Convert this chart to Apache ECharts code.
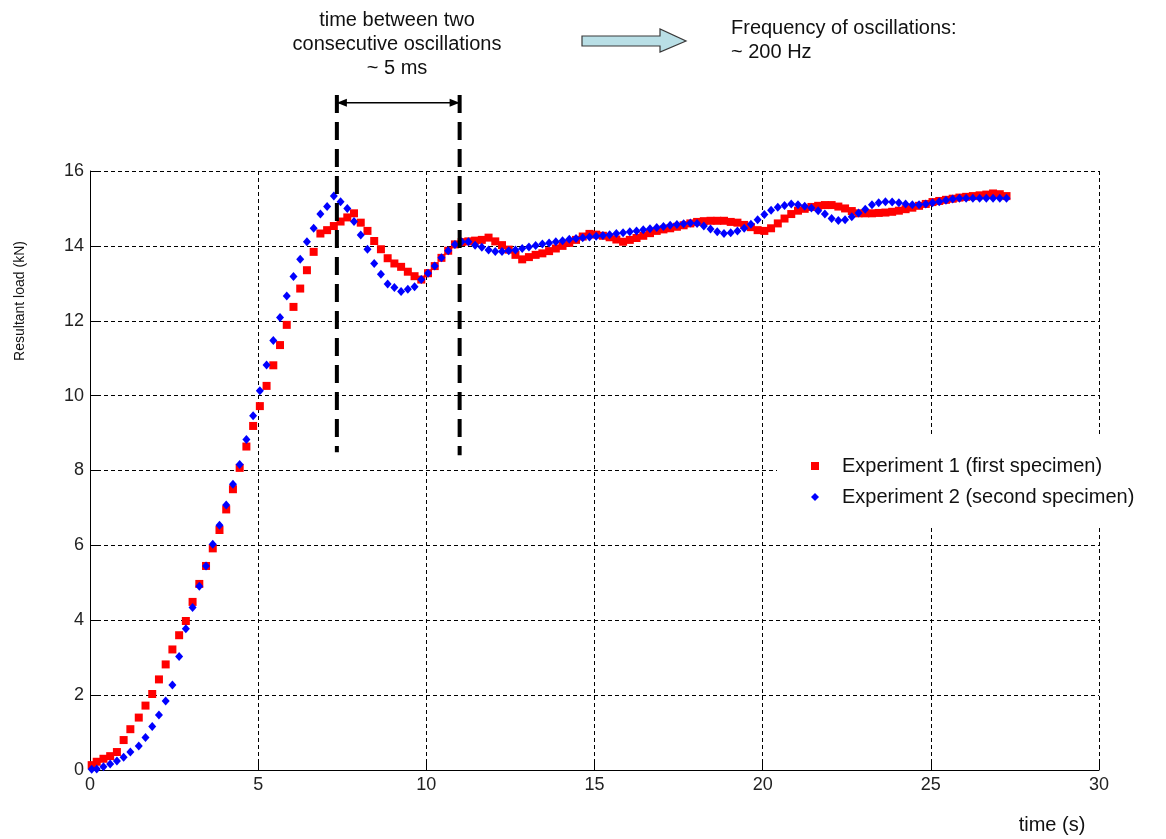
<!DOCTYPE html>
<html><head><meta charset="utf-8">
<script src="https://cdn.jsdelivr.net/npm/echarts@6/dist/echarts.min.js"></script>
<style>html,body{margin:0;padding:0;background:#fff}#c{width:1166px;height:839px}</style>
</head><body><div id="c"></div>
<script>
// time (s) of each sample
const times = [
  0.05, 0.2, 0.4, 0.6, 0.8, 1.0, 1.2,
  1.45, 1.65, 1.85, 2.05, 2.25, 2.45, 2.65, 2.85, 3.05, 3.25,
  3.45, 3.65, 3.85, 4.05, 4.25, 4.45, 4.65, 4.85, 5.05, 5.25,
  5.45, 5.65, 5.85, 6.05, 6.25, 6.45, 6.65, 6.85, 7.05, 7.25,
  7.45, 7.65, 7.85, 8.05, 8.25, 8.45, 8.65, 8.85, 9.05, 9.25,
  9.45, 9.65, 9.85, 10.05, 10.25, 10.45, 10.65, 10.85, 11.05, 11.25,
  11.45, 11.65, 11.85, 12.05, 12.25, 12.45, 12.65, 12.85, 13.05, 13.25,
  13.45, 13.65, 13.85, 14.05, 14.25, 14.45, 14.65, 14.85, 15.05, 15.25,
  15.45, 15.65, 15.85, 16.05, 16.25, 16.45, 16.65, 16.85, 17.05, 17.25,
  17.45, 17.65, 17.85, 18.05, 18.25, 18.45, 18.65, 18.85, 19.05, 19.25,
  19.45, 19.65, 19.85, 20.05, 20.25, 20.45, 20.65, 20.85, 21.05, 21.25,
  21.45, 21.65, 21.85, 22.05, 22.25, 22.45, 22.65, 22.85, 23.05, 23.25,
  23.45, 23.65, 23.85, 24.05, 24.25, 24.45, 24.65, 24.85, 25.05, 25.25,
  25.45, 25.65, 25.85, 26.05, 26.25, 26.45, 26.65, 26.85, 27.05, 27.25
];
// Experiment 1 (first specimen), kN
const exp1 = [
  0.13, 0.22, 0.30, 0.37, 0.48, 0.80, 1.09,
  1.40, 1.72, 2.03, 2.42, 2.82, 3.22, 3.60, 3.98, 4.49, 4.97,
  5.45, 5.92, 6.41, 6.96, 7.50, 8.07, 8.64, 9.19, 9.72, 10.26,
  10.81, 11.35, 11.89, 12.37, 12.86, 13.35, 13.84, 14.33, 14.42, 14.53,
  14.65, 14.76, 14.87, 14.62, 14.40, 14.13, 13.91, 13.67, 13.53, 13.44,
  13.31, 13.19, 13.10, 13.27, 13.46, 13.68, 13.87, 14.04, 14.10, 14.12,
  14.14, 14.16, 14.22, 14.12, 14.02, 13.90, 13.76, 13.64, 13.70, 13.76,
  13.80, 13.86, 13.93, 14.00, 14.08, 14.16, 14.25, 14.32, 14.30, 14.27,
  14.23, 14.17, 14.11, 14.16, 14.21, 14.27, 14.34, 14.40, 14.44, 14.47,
  14.51, 14.55, 14.60, 14.64, 14.66, 14.67, 14.67, 14.67, 14.64, 14.62,
  14.56, 14.50, 14.42, 14.40, 14.47, 14.60, 14.73, 14.85, 14.94, 14.99,
  15.04, 15.07, 15.09, 15.09, 15.05, 15.00, 14.93, 14.87, 14.87, 14.87,
  14.88, 14.89, 14.91, 14.94, 14.98, 15.02, 15.07, 15.12, 15.17, 15.20,
  15.23, 15.26, 15.29, 15.31, 15.33, 15.35, 15.37, 15.40, 15.38, 15.33
];
// Experiment 2 (second specimen), kN
const exp2 = [
  0.02, 0.03, 0.09, 0.16, 0.24, 0.34, 0.48,
  0.64, 0.87, 1.16, 1.47, 1.84, 2.27, 3.03, 3.77, 4.34, 4.91,
  5.45, 6.03, 6.54, 7.08, 7.63, 8.16, 8.83, 9.46, 10.13, 10.82,
  11.47, 12.09, 12.66, 13.18, 13.64, 14.11, 14.47, 14.85, 15.05, 15.33,
  15.18, 15.00, 14.65, 14.29, 13.91, 13.53, 13.24, 12.98, 12.89, 12.78,
  12.84, 12.91, 13.10, 13.27, 13.46, 13.68, 13.87, 14.04, 14.11, 14.11,
  14.02, 13.96, 13.89, 13.85, 13.85, 13.87, 13.89, 13.93, 13.97, 14.01,
  14.05, 14.08, 14.11, 14.14, 14.18, 14.20, 14.22, 14.24, 14.26, 14.28,
  14.30, 14.33, 14.35, 14.38, 14.40, 14.43, 14.46, 14.49, 14.52, 14.55,
  14.57, 14.59, 14.61, 14.60, 14.53, 14.45, 14.38, 14.33, 14.35, 14.40,
  14.47, 14.58, 14.70, 14.84, 14.95, 15.03, 15.08, 15.12, 15.10, 15.06,
  15.01, 14.94, 14.85, 14.73, 14.68, 14.70, 14.78, 14.88, 14.98, 15.10,
  15.15, 15.18, 15.17, 15.15, 15.12, 15.10, 15.10, 15.12, 15.15, 15.18,
  15.22, 15.25, 15.27, 15.27, 15.27, 15.27, 15.27, 15.27, 15.27, 15.27
];
const seriesNames = ['Experiment 1 (first specimen)', 'Experiment 2 (second specimen)'];
const xRange = { min: 0, max: 30, interval: 5 };
const yRange = { min: 0, max: 16, interval: 2 };
const xTitle = 'time (s)';
const yTitle = 'Resultant load (kN)';
const noteLines = ['time between two', 'consecutive oscillations', '~ 5 ms'];
const freqLines = ['Frequency of oscillations:', '~ 200 Hz'];
// annotation positions in data units
const oscMarks = [7.34, 10.99];
const oscMarkTop = 18.03, oscMarkBottom = [8.49, 8.41], oscArrowY = 17.82;

const FONT = '"Liberation Sans", Arial, sans-serif';
const chart = echarts.init(document.getElementById('c'), null, { renderer: 'canvas' });

const axisCommon = {
  type: 'value',
  axisLine: { show: true, lineStyle: { color: '#000', width: 1 } },
  axisTick: { show: true, inside: true, length: 11, lineStyle: { color: '#000', width: 1 } },
  axisLabel: { fontFamily: FONT, fontSize: 18, color: '#222', margin: 6 },
  splitLine: { show: true, lineStyle: { color: '#000', width: 1, type: [4, 3] } }
};

chart.setOption({
  backgroundColor: '#fff',
  animation: false,
  grid: { left: 90, right: 67, top: 171, bottom: 69 },
  xAxis: Object.assign({}, axisCommon, xRange),
  yAxis: Object.assign({}, axisCommon, yRange),
  legend: {
    orient: 'vertical', left: 777, top: 437,
    backgroundColor: '#fff',
    padding: [18, 40, 17, 34],
    itemWidth: 8, itemHeight: 8, itemGap: 9,
    textStyle: { fontFamily: FONT, fontSize: 20, color: '#111', lineHeight: 22, padding: [0, 0, 0, 18] },
    data: [{ name: seriesNames[0], icon: 'rect' }, { name: seriesNames[1], icon: 'diamond' }]
  },
  series: [
    { name: seriesNames[0], type: 'scatter', symbol: 'rect', symbolSize: 8,
      itemStyle: { color: '#ff0000', opacity: 1 }, data: times.map((t, i) => [t, exp1[i]]) },
    { name: seriesNames[1], type: 'scatter', symbol: 'diamond', symbolSize: [8, 9],
      itemStyle: { color: '#0000ff', opacity: 1 }, data: times.map((t, i) => [t, exp2[i]]) }
  ]
});

const px = (x, y) => chart.convertToPixel({ gridIndex: 0 }, [x, y]);
const g = [];
// vertical dashed marks
oscMarks.forEach((xv, k) => {
  const a = px(xv, oscMarkTop), b = px(xv, oscMarkBottom[k]);
  g.push({ type: 'line', z: 10, shape: { x1: a[0], y1: a[1], x2: b[0], y2: b[1] },
    style: { stroke: '#000', lineWidth: 4, lineDash: [18, 9] } });
});
// double arrow
const L = px(oscMarks[0], oscArrowY), R = px(oscMarks[1], oscArrowY);
g.push({ type: 'line', z: 10, shape: { x1: L[0], y1: L[1], x2: R[0], y2: R[1] }, style: { stroke: '#000', lineWidth: 1.5 } });
g.push({ type: 'polygon', z: 10, shape: { points: [[L[0], L[1]], [L[0] + 10, L[1] - 4], [L[0] + 10, L[1] + 4]] }, style: { fill: '#000' } });
g.push({ type: 'polygon', z: 10, shape: { points: [[R[0], R[1]], [R[0] - 10, R[1] - 4], [R[0] - 10, R[1] + 4]] }, style: { fill: '#000' } });
g.push({ type: 'line', z: 10, shape: { x1: L[0], y1: L[1] - 6, x2: L[0], y2: L[1] + 6 }, style: { stroke: '#000', lineWidth: 2.5 } });
g.push({ type: 'line', z: 10, shape: { x1: R[0], y1: R[1] - 6, x2: R[0], y2: R[1] + 6 }, style: { stroke: '#000', lineWidth: 2.5 } });
// note text
const noteY = [20, 44, 68];
noteLines.forEach((t, i) => g.push({ type: 'text', z: 10, style: { text: t, x: 397, y: noteY[i], textAlign: 'center', textVerticalAlign: 'middle', font: '20px ' + FONT, fill: '#111' } }));
// block arrow
g.push({ type: 'polygon', z: 10, shape: { points: [[582, 36], [660, 36], [660, 29], [686, 41], [660, 52], [660, 46], [582, 46]] },
  style: { fill: '#b9dfe6', stroke: '#3a3a3a', lineWidth: 1.2 } });
// frequency text
const freqY = [28, 52];
freqLines.forEach((t, i) => g.push({ type: 'text', z: 10, style: { text: t, x: 731, y: freqY[i], textAlign: 'left', textVerticalAlign: 'middle', font: '20px ' + FONT, fill: '#111' } }));
// axis titles
g.push({ type: 'text', z: 10, x: 1052, y: 825, style: { text: xTitle, x: 0, y: 0, textAlign: 'center', textVerticalAlign: 'middle', font: '20px ' + FONT, fill: '#111' } });
g.push({ type: 'text', z: 10, x: 20, y: 301, rotation: Math.PI / 2, style: { text: yTitle, x: 0, y: 0, textAlign: 'center', textVerticalAlign: 'middle', font: '14px ' + FONT, fill: '#111' } });
chart.setOption({ graphic: { elements: g } });
</script>
</body></html>
